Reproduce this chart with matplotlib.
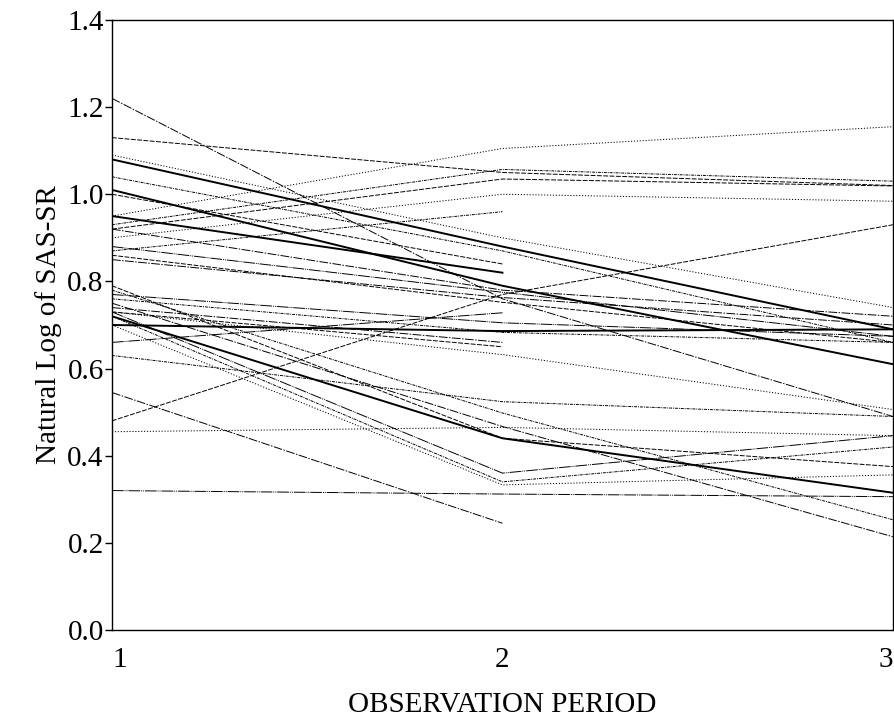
import numpy as np
import matplotlib
matplotlib.use("Agg")
import matplotlib.pyplot as plt

# observation periods
periods = [1, 2, 3]

# natural log of SAS-SR per subject at periods 1, 2, 3 (nan = not observed)
nan = np.nan
period1 = [1.22, 1.13, 1.09, 1.08, 1.04, 1.01, 1.00, 0.95, 0.95, 0.93,
           0.92, 0.92, 0.90, 0.88, 0.87, 0.85, 0.86, 0.70, 0.77, 0.76,
           0.74, 0.73, 0.73, 0.73, 0.72, 0.72, 0.79, 0.70, 0.66, 0.63,
           0.545, 0.48, 0.455, 0.32, 0.78, 0.75]
period2 = [0.76, 1.05, 0.90, 0.88, 0.87, 0.79, 0.84, 1.105, 0.82, 1.057,
           0.78, 1.035, 1.00, 0.775, 0.96, 0.763, 0.752, 0.686, 0.705, 0.683,
           0.66, 0.65, 0.632, 0.36, 0.34, 0.44, 0.44, 0.333, 0.728, 0.524,
           0.245, 0.77, 0.465, 0.312, 0.498, 0.467]
period3 = [0.49, 1.02, 0.74, 0.69, 0.66, 0.61, nan, 1.155, nan, 1.03,
           0.72, 1.019, 0.984, 0.674, nan, 0.70, 0.66, 0.69, 0.674, 0.66,
           nan, nan, 0.506, 0.446, 0.42, 0.315, 0.375, 0.356, nan, 0.49,
           nan, 0.93, 0.446, 0.306, 0.253, 0.214]

thick = {3, 5, 8, 17, 25}
dashes = [(0, (9, 1.5, 1.5, 1.5)), (0, (5, 1.5)), (0, (1.2, 1.8)),
          (0, (12, 1, 1, 1, 1, 1)), (0, (3, 1, 1, 1))]

plt.rcParams['font.family'] = ['Liberation Serif', 'DejaVu Serif']

fig = plt.figure(figsize=(8.95, 7.28), dpi=100)
ax = fig.add_axes([0.1251, 0.1346, 0.8726, 0.838])

for i in range(len(period1)):
    vals = [period1[i], period2[i], period3[i]]
    if i in thick:
        ax.plot(periods, vals, color='black', linewidth=1.4)
    else:
        ax.plot(periods, vals, color='black', linewidth=0.7,
                linestyle=dashes[i % len(dashes)])

ax.set_xlim(1, 3)
ax.set_ylim(0, 1.4)
ax.set_yticks(np.arange(0, 1.41, 0.2))
ax.set_yticklabels([f"{v:.1f}" for v in np.arange(0, 1.41, 0.2)])
ax.set_xticks(periods)
ax.set_xticklabels(["1", "2", "3"])
labels = ax.get_xticklabels()
labels[0].set_ha('left')
labels[-1].set_ha('right')

ax.tick_params(axis='y', direction='out', length=5, width=1, pad=1, labelsize=21)
ax.tick_params(axis='x', length=0, pad=12, labelsize=21)
for s in ax.spines.values():
    s.set_linewidth(1)

ax.set_xlabel("OBSERVATION PERIOD", fontsize=21, labelpad=14)
ax.set_ylabel("Natural Log of SAS-SR", fontsize=21, labelpad=4)

fig.savefig("out.png", dpi=100)
